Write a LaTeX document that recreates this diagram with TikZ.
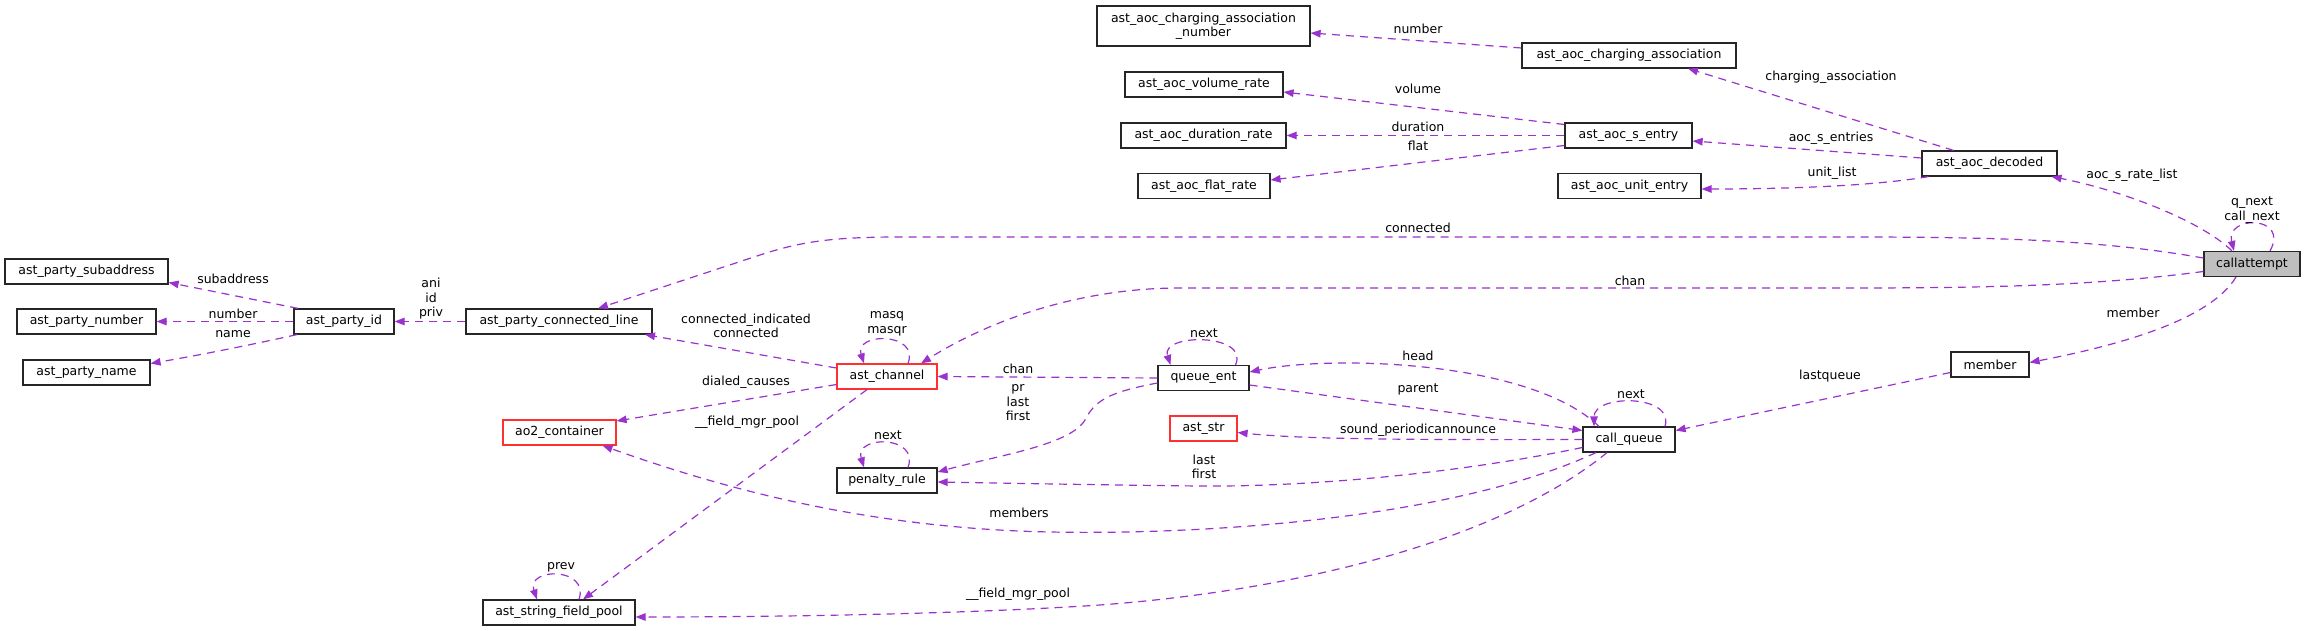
\documentclass[tikz,border=0pt]{standalone}
\usepackage{fontspec}
\setmainfont{DejaVu Sans}
\usetikzlibrary{arrows.meta}
\definecolor{ecol}{HTML}{9A32CD}
\definecolor{redb}{HTML}{FF3030}
\definecolor{grayf}{HTML}{BFBFBF}
\newcommand\lblfont{\fontsize{12.5}{14.5}\selectfont}
\tikzset{
  box/.style={draw=black!85, line width=1.2pt, fill=white, minimum height=25pt, inner sep=0pt, font=\lblfont, align=center},
  redbox/.style={box, draw=redb},
  mainbox/.style={box, fill=grayf},
  lab/.style={font=\lblfont, inner sep=0pt, align=center},
  edge/.style={draw=ecol, line width=1.2pt, dash pattern=on 8pt off 6pt, -{Triangle[length=10pt,width=7.5pt]}},
}
\begin{document}
\begin{tikzpicture}[x=1pt,y=-1pt]
\fill[white] (0,0) rectangle (2305,631);
\useasboundingbox (0,0) rectangle (2305,631);
% nodes
\node[box, minimum width=213pt, minimum height=40pt] (ccan) at (1203.5,26) {ast\_aoc\_charging\_association\\\_number};
\node[box, minimum width=214pt] (ca) at (1629,55.5) {ast\_aoc\_charging\_association};
\node[box, minimum width=158pt] (vol) at (1204,84.5) {ast\_aoc\_volume\_rate};
\node[box, minimum width=165pt] (dur) at (1203.5,135.5) {ast\_aoc\_duration\_rate};
\node[box, minimum width=132pt] (flat) at (1204,186) {ast\_aoc\_flat\_rate};
\node[box, minimum width=127pt] (sentry) at (1628.5,135.5) {ast\_aoc\_s\_entry};
\node[box, minimum width=143pt] (unit) at (1629.5,186) {ast\_aoc\_unit\_entry};
\node[box, minimum width=135pt] (decoded) at (1989.5,163.5) {ast\_aoc\_decoded};
\node[mainbox, minimum width=96pt] (callattempt) at (2252,264) {callattempt};
\node[box, minimum width=163pt] (psub) at (86.5,271.5) {ast\_party\_subaddress};
\node[box, minimum width=139pt] (pnum) at (86.5,321.5) {ast\_party\_number};
\node[box, minimum width=127pt] (pname) at (86.5,372.5) {ast\_party\_name};
\node[box, minimum width=100pt] (pid) at (344,321.5) {ast\_party\_id};
\node[box, minimum width=186pt] (pcl) at (559,321.5) {ast\_party\_connected\_line};
\node[redbox, minimum width=100pt] (chan) at (887,376.5) {ast\_channel};
\node[box, minimum width=91pt] (qent) at (1203.5,378) {queue\_ent};
\node[redbox, minimum width=113pt] (ao2) at (559.5,432.5) {ao2\_container};
\node[redbox, minimum width=67pt] (astr) at (1203.5,428.5) {ast\_str};
\node[box, minimum width=100pt] (pen) at (887,480.5) {penalty\_rule};
\node[box, minimum width=92pt] (cq) at (1629,439.5) {call\_queue};
\node[box, minimum width=78pt] (member) at (1990,364.5) {member};
\node[box, minimum width=152pt] (asfp) at (559,612.5) {ast\_string\_field\_pool};
% edges
\draw[edge] ([yshift=7.5pt]ca.west) -- ([yshift=-7pt]ccan.east);
\draw[edge] ([xshift=-36pt]decoded.north) -- ([xshift=59pt]ca.south);
\draw[edge] ([yshift=11pt]sentry.west) -- ([yshift=-7.5pt]vol.east);
\draw[edge] (sentry.west) -- (dur.east);
\draw[edge] ([yshift=-10pt]sentry.west) -- ([yshift=6pt]flat.east);
\draw[edge] ([yshift=5.5pt]decoded.west) -- ([yshift=-5.5pt]sentry.east);
\draw[edge] ([xshift=-61pt]decoded.south) .. controls (1880,185) and (1800,189) .. ([yshift=-3pt]unit.east);
\draw[edge] ([xshift=-20pt]callattempt.north) .. controls (2200,220) and (2120,190) .. ([xshift=62pt]decoded.south);
\draw[edge] ([xshift=18pt]callattempt.north) .. controls (2290,215) and (2225,215) .. ([xshift=-18pt]callattempt.north);
\draw[edge] ([yshift=6pt]callattempt.west) .. controls (2100,240) and (2000,237) .. (1850,237) -- (900,237) .. controls (830,237) and (800,242) .. (760,255) -- ([xshift=39pt]pcl.north);
\draw[edge] ([yshift=-7.5pt]callattempt.west) .. controls (2100,285) and (2000,288) .. (1850,288) -- (1180,288) .. controls (1080,288) and (990,320) .. ([xshift=34pt]chan.north);
\draw[edge] ([xshift=-16pt]callattempt.south) .. controls (2210,320) and (2120,345) .. ([yshift=2pt]member.east);
\draw[edge] ([yshift=-8pt]member.west) -- ([yshift=9pt]cq.east);
\draw[edge] ([xshift=36pt]cq.north) .. controls (1675,394) and (1594,394) .. ([xshift=-35pt]cq.north);
\draw[edge] ([xshift=-30pt]cq.north) .. controls (1530,360) and (1330,355) .. ([yshift=6pt]qent.east);
\draw[edge] ([yshift=-7pt]qent.east) -- ([yshift=9pt]cq.west);
\draw[edge] (cq.west) .. controls (1400,440) and (1300,439) .. ([yshift=-4pt]astr.east);
\draw[edge] ([yshift=-8pt]cq.west) .. controls (1450,475) and (1300,487) .. (1200,486) .. controls (1100,485) and (1000,483) .. ([yshift=-1.5pt]pen.east);
\draw[edge] ([xshift=-33pt]cq.south) .. controls (1450,520) and (1200,535) .. (1050,532) .. controls (850,528) and (700,480) .. ([xshift=43pt]ao2.south);
\draw[edge] ([xshift=-22pt]cq.south) .. controls (1500,540) and (1300,590) .. (1100,605) .. controls (950,615) and (750,617) .. ([yshift=-4.5pt]asfp.east);
\draw[edge] ([xshift=32pt]qent.north) .. controls (1250,333) and (1160,333) .. ([xshift=-33pt]qent.north);
\draw[edge] (qent.west) -- (chan.east);
\draw[edge] ([yshift=-5pt]qent.west) .. controls (1110,392) and (1095,400) .. (1085,420) .. controls (1070,445) and (1000,455) .. ([yshift=8.5pt]pen.east);
\draw[edge] ([xshift=21pt]chan.north) .. controls (920,332) and (854,332) .. ([xshift=-23pt]chan.north);
\draw[edge] ([yshift=8.5pt]chan.west) -- ([xshift=86pt]pcl.south);
\draw[edge] ([yshift=-8pt]chan.west) -- ([yshift=11.5pt]ao2.east);
\draw[edge] ([xshift=-20pt]chan.south) -- ([xshift=24pt]asfp.north);
\draw[edge] ([xshift=20pt]asfp.north) .. controls (590,567) and (526,567) .. ([xshift=-22pt]asfp.north);
\draw[edge] ([xshift=21pt]pen.north) .. controls (920,435) and (854,435) .. ([xshift=-23pt]pen.north);
\draw[edge] (pcl.west) -- (pid.east);
\draw[edge] ([xshift=-46pt]pid.north) -- ([yshift=-11pt]psub.east);
\draw[edge] (pid.west) -- (pnum.east);
\draw[edge] ([xshift=-47pt]pid.south) .. controls (250,345) and (200,355) .. ([yshift=9pt]pname.east);
% labels
\node[lab] (l1) at (1418,29) {number};
\node[lab] (l2) at (1831,77) {charging\_association};
\node[lab] (l3) at (1418,89) {volume};
\node[lab] (l4) at (1418,127) {duration};
\node[lab] (l5) at (1418,146) {flat};
\node[lab] (l6) at (1831,138) {aoc\_s\_entries};
\node[lab] (l7) at (1832,173) {unit\_list};
\node[lab] (l8) at (2132,175) {aoc\_s\_rate\_list};
\node[lab] (l9) at (2252,210) {q\_next\\call\_next};
\node[lab] (l10) at (1418,228) {connected};
\node[lab] (l11) at (1630,281) {chan};
\node[lab] (l12) at (2133,313) {member};
\node[lab] (l13) at (1830,376) {lastqueue};
\node[lab] (l14) at (1631,394) {next};
\node[lab] (l15) at (1418,356) {head};
\node[lab] (l16) at (1418,389) {parent};
\node[lab] (l17) at (1418,430) {sound\_periodicannounce};
\node[lab] (l18) at (1204,467) {last\\first};
\node[lab] (l19) at (1019,513) {members};
\node[lab] (l20) at (1018,594) {\_\_field\_mgr\_pool};
\node[lab] (l21) at (1204,333) {next};
\node[lab] (l22) at (1018,369) {chan};
\node[lab] (l23) at (1018,403) {pr\\last\\first};
\node[lab] (l24) at (887,324) {masq\\masqr};
\node[lab] (l25) at (888,435) {next};
\node[lab] (l26) at (746,326) {connected\_indicated\\connected};
\node[lab] (l27) at (746,382) {dialed\_causes};
\node[lab] (l28) at (747,422) {\_\_field\_mgr\_pool};
\node[lab] (l29) at (561,567) {prev};
\node[lab] (l30) at (431,299) {ani\\id\\priv};
\node[lab] (l31) at (233,279) {subaddress};
\node[lab] (l32) at (233,314) {number};
\node[lab] (l33) at (233,334) {name};
\end{tikzpicture}
\end{document}
